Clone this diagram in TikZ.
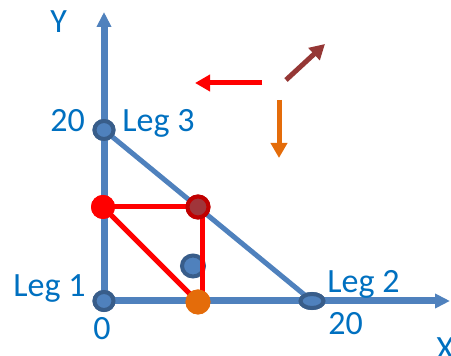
\documentclass[tikz,border=0pt]{standalone}
\usepackage{fontspec}
\setmainfont{Carlito}
\usetikzlibrary{arrows.meta,positioning,shapes.geometric}
\definecolor{axisblue}{HTML}{4F81BD}
\definecolor{dotedge}{HTML}{385D8A}
\definecolor{txtblue}{HTML}{0070C0}
\definecolor{rimred}{HTML}{C00000}
\definecolor{innerred}{HTML}{A0353A}
\definecolor{brownred}{HTML}{953735}
\definecolor{legorange}{HTML}{E46C0A}

\begin{document}
\begin{tikzpicture}[x=0.5pt, y=-0.5pt,
    lbl/.style={text=txtblue, font=\fontsize{17}{20}\selectfont, anchor=base west, inner sep=0pt},
    axis/.style={draw=axisblue, line width=3.5pt, -{Triangle[width=7pt,length=7.5pt]}},
    bdot/.style={ellipse, draw=dotedge, fill=axisblue, line width=2pt, inner sep=0pt, minimum width=9.5pt, minimum height=9pt},
    fdot/.style={circle, inner sep=0pt, minimum size=12.5pt},
    move/.style={line width=2.5pt, -{Triangle[width=8pt,length=7.5pt]}}]
	\useasboundingbox (0,0) rectangle (451,356);
	
	\coordinate (ytip) at (104,12);
	\coordinate (xtip) at (450,301);
	\node[bdot] (origin) at (104,301) {};
	\node[bdot] (leg3) at (104,130) {};
	\node[bdot, minimum width=11.5pt, minimum height=7pt] (leg2) at (312,301) {};
	
	\draw[axis] (origin.center) -- (ytip);
	\draw[axis] (origin.center) -- (xtip);
	\draw[draw=axisblue, line width=2.5pt] (leg3.center) -- (leg2.center);
	
	% the three legs again, above the lines
	\node[bdot] at (origin) {};
	\node[bdot] at (leg3) {};
	\node[bdot, minimum width=11.5pt, minimum height=7pt] at (leg2) {};
	\node[bdot, minimum width=11pt, minimum height=10.5pt] (inner) at (193,266) {};
	
	\node[fdot, fill=red, minimum size=12pt] (p1) at (103,207) {};
	\node[fdot, fill=innerred, draw=rimred, line width=2pt, minimum size=10.5pt] (p3) at (198,207) {};
	\node[fdot, fill=legorange] (p2) at (198,302) {};
	
	\draw[red, line width=2.5pt] (p1.center) -- (p3.center);
	\draw[red, line width=2.5pt] ([xshift=2pt]p3.center) -- ([xshift=2pt]p2.center);
	\draw[red, line width=2.5pt] (p1.center) -- (p2.center);
	\node[fdot, fill=red, minimum size=12pt] at (p1) {};
	\node[fdot, fill=innerred, draw=rimred, line width=2pt, minimum size=10.5pt] at (p3) {};
	\node[fdot, fill=legorange] at (p2) {};
	
	% moves
	\coordinate (redfrom) at (262,83);
	\coordinate (redto) at (195,83);
	\coordinate (brownfrom) at (286,80);
	\coordinate (brownto) at (325,44);
	\coordinate (orangefrom) at (279,100);
	\coordinate (orangeto) at (279,158);
	\draw[move, red] (redfrom) -- (redto);
	\draw[move, brownred] (brownfrom) -- (brownto);
	\draw[move, legorange] (orangefrom) -- (orangeto);
	
	\node[lbl] (ylbl) at (50,33) {Y};
	\node[lbl] (xlbl) at (436,360) {X};
	\node[lbl] (ymax) at (50,132) {20};
	\node[lbl] (leg3lbl) at (122,132) {Leg 3};
	\node[lbl] (leg1lbl) at (13,297) {Leg 1};
	\node[lbl] (zero) at (93,340) {0};
	\node[lbl] (leg2lbl) at (327,293) {Leg 2};
	\node[lbl] (xmax) at (328,335) {20};
\end{tikzpicture}
\end{document}
